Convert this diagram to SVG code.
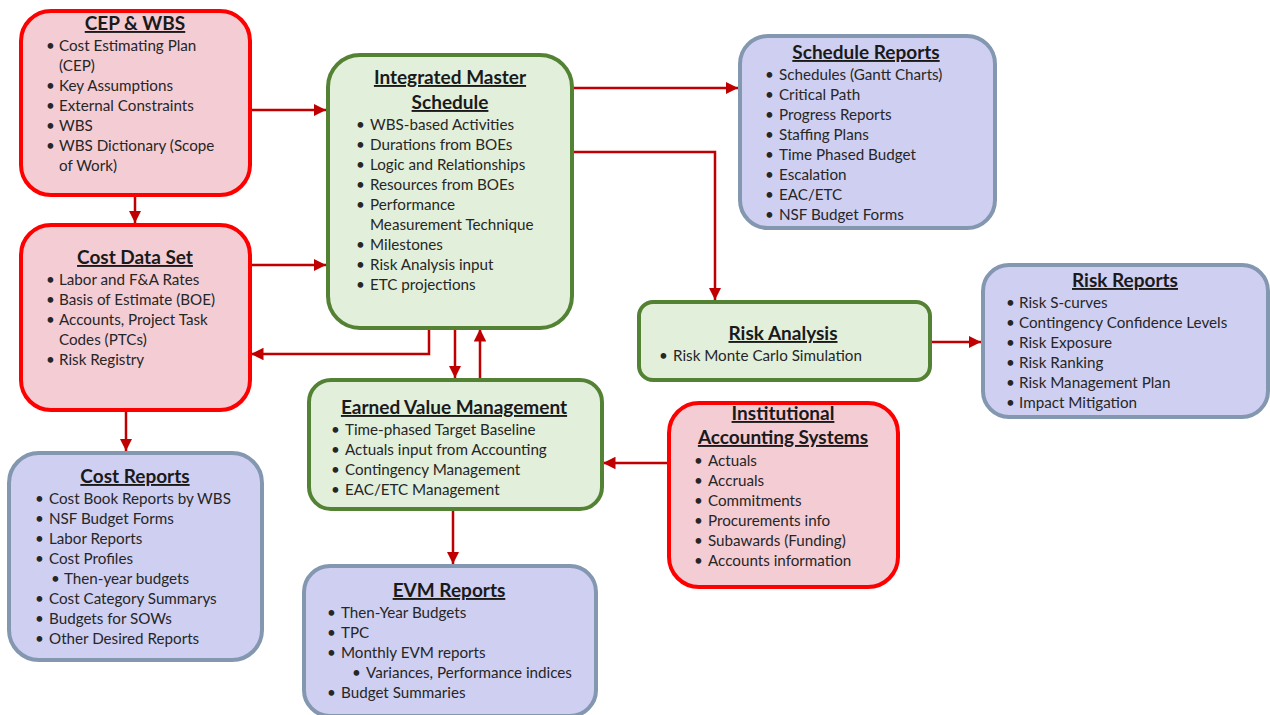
<svg xmlns="http://www.w3.org/2000/svg" width="1270" height="715" viewBox="0 0 1270 715">
<style>
text{font-family:Lato,"Open Sans","Liberation Sans",sans-serif;fill:#262626;font-size:15.2px}
.t{font-weight:bold;font-size:19px;text-anchor:middle;text-decoration:underline;fill:#1a1a1a}
.r{fill:#F4CCD4;stroke:#FF0000;stroke-width:4}
.g{fill:#E2EFDA;stroke:#548235;stroke-width:4}
.b{fill:#CFCFF2;stroke:#8497B0;stroke-width:4}
.c{fill:none;stroke:#C00000;stroke-width:2.5}
</style>
<defs>
<marker id="ah" viewBox="0 0 10 10" refX="10" refY="5" markerWidth="5" markerHeight="5" markerUnits="strokeWidth" orient="auto">
<path d="M0,0L10,5L0,10z" fill="#C00000"/>
</marker>
</defs>
<g id="connectors">
<line class="c" x1="250" y1="110" x2="326" y2="110" marker-end="url(#ah)"/>
<line class="c" x1="135" y1="195" x2="135" y2="223" marker-end="url(#ah)"/>
<line class="c" x1="250" y1="265" x2="326" y2="265" marker-end="url(#ah)"/>
<polyline class="c" points="429,328 429,354 251,354" marker-end="url(#ah)"/>
<line class="c" x1="455" y1="328" x2="455" y2="378" marker-end="url(#ah)"/>
<line class="c" x1="480" y1="379" x2="480" y2="329" marker-end="url(#ah)"/>
<line class="c" x1="572" y1="88" x2="738" y2="88" marker-end="url(#ah)"/>
<polyline class="c" points="572,152 715,152 715,300" marker-end="url(#ah)"/>
<line class="c" x1="930" y1="342" x2="981" y2="342" marker-end="url(#ah)"/>
<line class="c" x1="668" y1="463" x2="603" y2="463" marker-end="url(#ah)"/>
<line class="c" x1="453" y1="509" x2="453" y2="564" marker-end="url(#ah)"/>
<line class="c" x1="126" y1="410" x2="126" y2="451" marker-end="url(#ah)"/>
</g>
<g id="cep">
<rect class="r" x="21" y="11" width="229" height="184" rx="30"/>
<text class="t" x="135" y="30">CEP &amp; WBS</text>
<text x="46" y="51">•</text><text x="59" y="51">Cost Estimating Plan</text>
<text x="59" y="71">(CEP)</text>
<text x="46" y="91">•</text><text x="59" y="91">Key Assumptions</text>
<text x="46" y="111">•</text><text x="59" y="111">External Constraints</text>
<text x="46" y="131">•</text><text x="59" y="131">WBS</text>
<text x="46" y="151">•</text><text x="59" y="151">WBS Dictionary (Scope</text>
<text x="59" y="171">of Work)</text>
</g>
<g id="costdata">
<rect class="r" x="21" y="225" width="229" height="185" rx="30"/>
<text class="t" x="135" y="264">Cost Data Set</text>
<text x="46" y="285">•</text><text x="59" y="285">Labor and F&amp;A Rates</text>
<text x="46" y="305">•</text><text x="59" y="305">Basis of Estimate (BOE)</text>
<text x="46" y="325">•</text><text x="59" y="325">Accounts, Project Task</text>
<text x="59" y="345">Codes (PTCs)</text>
<text x="46" y="365">•</text><text x="59" y="365">Risk Registry</text>
</g>
<g id="ims">
<rect class="g" x="328" y="55" width="244" height="273" rx="32"/>
<text class="t" x="450" y="84">Integrated Master</text>
<text class="t" x="450" y="109">Schedule</text>
<text x="356" y="130">•</text><text x="370" y="130">WBS-based Activities</text>
<text x="356" y="150">•</text><text x="370" y="150">Durations from BOEs</text>
<text x="356" y="170">•</text><text x="370" y="170">Logic and Relationships</text>
<text x="356" y="190">•</text><text x="370" y="190">Resources from BOEs</text>
<text x="356" y="210">•</text><text x="370" y="210">Performance</text>
<text x="370" y="230">Measurement Technique</text>
<text x="356" y="250">•</text><text x="370" y="250">Milestones</text>
<text x="356" y="270">•</text><text x="370" y="270">Risk Analysis input</text>
<text x="356" y="290">•</text><text x="370" y="290">ETC projections</text>
</g>
<g id="schedrep">
<rect class="b" x="740" y="36" width="255" height="192" rx="28"/>
<text class="t" x="866" y="59">Schedule Reports</text>
<text x="765" y="80">•</text><text x="779" y="80">Schedules (Gantt Charts)</text>
<text x="765" y="100">•</text><text x="779" y="100">Critical Path</text>
<text x="765" y="120">•</text><text x="779" y="120">Progress Reports</text>
<text x="765" y="140">•</text><text x="779" y="140">Staffing Plans</text>
<text x="765" y="160">•</text><text x="779" y="160">Time Phased Budget</text>
<text x="765" y="180">•</text><text x="779" y="180">Escalation</text>
<text x="765" y="200">•</text><text x="779" y="200">EAC/ETC</text>
<text x="765" y="220">•</text><text x="779" y="220">NSF Budget Forms</text>
</g>
<g id="riskanalysis">
<rect class="g" x="639" y="302" width="291" height="78" rx="14"/>
<text class="t" x="783" y="340">Risk Analysis</text>
<text x="659" y="361">•</text><text x="673" y="361">Risk Monte Carlo Simulation</text>
</g>
<g id="riskrep">
<rect class="b" x="983" y="265" width="285" height="152" rx="26"/>
<text class="t" x="1125" y="287">Risk Reports</text>
<text x="1006" y="308">•</text><text x="1019" y="308">Risk S-curves</text>
<text x="1006" y="328">•</text><text x="1019" y="328">Contingency Confidence Levels</text>
<text x="1006" y="348">•</text><text x="1019" y="348">Risk Exposure</text>
<text x="1006" y="368">•</text><text x="1019" y="368">Risk Ranking</text>
<text x="1006" y="388">•</text><text x="1019" y="388">Risk Management Plan</text>
<text x="1006" y="408">•</text><text x="1019" y="408">Impact Mitigation</text>
</g>
<g id="evm">
<rect class="g" x="309" y="380" width="293" height="129" rx="22"/>
<text class="t" x="454" y="414">Earned Value Management</text>
<text x="331" y="435">•</text><text x="345" y="435">Time-phased Target Baseline</text>
<text x="331" y="455">•</text><text x="345" y="455">Actuals input from Accounting</text>
<text x="331" y="475">•</text><text x="345" y="475">Contingency Management</text>
<text x="331" y="495">•</text><text x="345" y="495">EAC/ETC Management</text>
</g>
<g id="inst">
<rect class="r" x="669" y="403" width="229" height="184" rx="30"/>
<text class="t" x="783" y="420">Institutional</text>
<text class="t" x="783" y="444">Accounting Systems</text>
<text x="694" y="466">•</text><text x="708" y="466">Actuals</text>
<text x="694" y="486">•</text><text x="708" y="486">Accruals</text>
<text x="694" y="506">•</text><text x="708" y="506">Commitments</text>
<text x="694" y="526">•</text><text x="708" y="526">Procurements info</text>
<text x="694" y="546">•</text><text x="708" y="546">Subawards (Funding)</text>
<text x="694" y="566">•</text><text x="708" y="566">Accounts information</text>
</g>
<g id="costrep">
<rect class="b" x="9" y="453" width="253" height="207" rx="30"/>
<text class="t" x="135" y="483">Cost Reports</text>
<text x="35" y="504">•</text><text x="49" y="504">Cost Book Reports by WBS</text>
<text x="35" y="524">•</text><text x="49" y="524">NSF Budget Forms</text>
<text x="35" y="544">•</text><text x="49" y="544">Labor Reports</text>
<text x="35" y="564">•</text><text x="49" y="564">Cost Profiles</text>
<text x="51" y="584">•</text><text x="64" y="584">Then-year budgets</text>
<text x="35" y="604">•</text><text x="49" y="604">Cost Category Summarys</text>
<text x="35" y="624">•</text><text x="49" y="624">Budgets for SOWs</text>
<text x="35" y="644">•</text><text x="49" y="644">Other Desired Reports</text>
</g>
<g id="evmrep">
<rect class="b" x="304" y="566" width="292" height="150" rx="26"/>
<text class="t" x="449" y="597">EVM Reports</text>
<text x="327" y="618">•</text><text x="341" y="618">Then-Year Budgets</text>
<text x="327" y="638">•</text><text x="341" y="638">TPC</text>
<text x="327" y="658">•</text><text x="341" y="658">Monthly EVM reports</text>
<text x="352" y="678">•</text><text x="366" y="678">Variances, Performance indices</text>
<text x="327" y="698">•</text><text x="341" y="698">Budget Summaries</text>
</g>
</svg>
